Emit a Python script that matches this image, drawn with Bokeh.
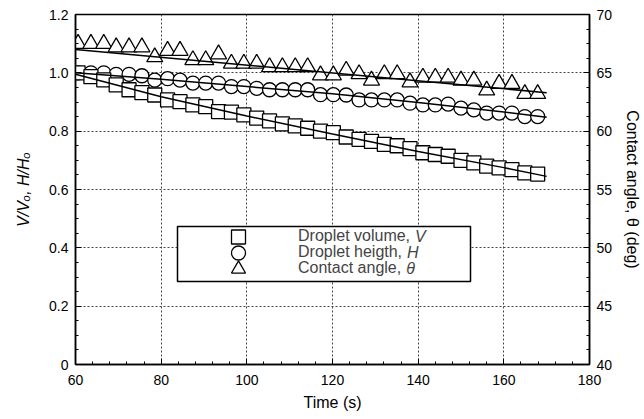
from bokeh.plotting import figure
from bokeh.models import Range1d, LinearAxis, FixedTicker, Legend, LegendItem, Label, BoxAnnotation
from bokeh.embed import file_html
from bokeh.resources import INLINE

# ---- data ----
time_s = [60.6, 63.6, 66.6, 69.5, 72.5, 75.5, 78.5, 81.5, 84.4, 87.4, 90.4, 93.4, 96.4,
          99.3, 102.3, 105.3, 108.3, 111.3, 114.2, 117.2, 120.2, 123.2, 126.2, 129.1,
          132.1, 135.1, 138.1, 141.1, 144.0, 147.0, 150.0, 153.0, 156.0, 158.9, 161.9,
          164.9, 167.9]
volume = [1.000, 0.987, 0.976, 0.959, 0.942, 0.932, 0.924, 0.907, 0.901, 0.890, 0.884,
          0.867, 0.865, 0.856, 0.845, 0.835, 0.825, 0.818, 0.810, 0.800, 0.795, 0.780,
          0.772, 0.765, 0.755, 0.750, 0.740, 0.726, 0.720, 0.714, 0.700, 0.691, 0.680,
          0.674, 0.668, 0.657, 0.653]
height = [1.000, 1.000, 1.000, 0.995, 0.995, 0.990, 0.975, 0.980, 0.975, 0.965, 0.965,
          0.965, 0.953, 0.953, 0.947, 0.942, 0.942, 0.942, 0.942, 0.925, 0.925, 0.924,
          0.907, 0.907, 0.907, 0.907, 0.896, 0.890, 0.890, 0.893, 0.879, 0.873, 0.862,
          0.862, 0.862, 0.850, 0.850]
angle = [67.5, 67.5, 67.5, 67.2, 67.2, 67.2, 66.35, 66.9, 66.9, 66.1, 66.1, 66.6, 65.8,
         65.8, 65.8, 65.5, 65.5, 65.5, 65.5, 64.8, 64.8, 65.2, 64.9, 64.35, 64.9, 64.9,
         64.2, 64.6, 64.6, 64.6, 64.35, 64.35, 63.5, 64.07, 64.07, 63.2, 63.2]

fit_time = [60, 80, 100, 120, 140, 160, 170]
volume_fit = [0.995, 0.918, 0.852, 0.790, 0.730, 0.675, 0.645]
height_fit = [1.000, 0.978, 0.953, 0.928, 0.898, 0.866, 0.848]
angle_fit_time = [60, 170]
angle_fit = [67.0, 63.3]

x_ticks = [60, 80, 100, 120, 140, 160, 180]
y_ticks = [0, 0.2, 0.4, 0.6, 0.8, 1.0, 1.2]
y_tick_labels = {0: "0", 0.2: "0.2", 0.4: "0.4", 0.6: "0.6", 0.8: "0.8", 1.0: "1.0", 1.2: "1.2"}
theta_ticks = [40, 45, 50, 55, 60, 65, 70]

x_title = "Time (s)"
y_title = "V/V\u2092, H/H\u2092"
y2_title = "Contact angle, \u03b8 (deg)"
legend_labels = ["Droplet volume,", "Droplet heigth,", "Contact angle,"]
legend_symbols = ["V", "H", "\u03b8"]

FONT = "Liberation Sans"

p = figure(width=644, height=419, output_backend="svg", toolbar_location=None,
           x_range=Range1d(60, 180), y_range=Range1d(0, 1.2),
           min_border_left=75, min_border_right=53, min_border_top=14, min_border_bottom=55)
p.extra_y_ranges = {"theta": Range1d(40, 70)}
p.background_fill_color = "white"
p.border_fill_color = "white"
p.outline_line_color = "black"
p.outline_line_width = 1.5

xt = FixedTicker(ticks=x_ticks, minor_ticks=[60 + 4 * i for i in range(31)])
yt = FixedTicker(ticks=y_ticks, minor_ticks=[0.05 * i for i in range(25)])
tt = FixedTicker(ticks=theta_ticks, minor_ticks=[40 + 1.25 * i for i in range(25)])

p.xaxis.ticker = xt
p.yaxis.ticker = yt
p.yaxis.major_label_overrides = y_tick_labels
p.xgrid.ticker = xt
p.ygrid.ticker = yt
for g in (p.xgrid, p.ygrid):
    g.grid_line_color = "#444444"
    g.grid_line_dash = "2 2"
    g.grid_line_width = 1

right = LinearAxis(y_range_name="theta", ticker=tt)
p.add_layout(right, "right")

for ax in (p.xaxis[0], p.yaxis[0], right):
    ax.axis_line_width = 1.5
    ax.axis_line_color = "black"
    ax.major_tick_in = 6
    ax.major_tick_out = 0
    ax.minor_tick_in = 3
    ax.minor_tick_out = 0
    ax.major_tick_line_color = "black"
    ax.minor_tick_line_color = "black"
    ax.major_label_text_font = FONT
    ax.major_label_text_font_size = "14px"
    ax.major_label_text_color = "black"
    ax.major_label_standoff = 7
    ax.axis_label_text_font = FONT
    ax.axis_label_text_font_size = "16px"
    ax.axis_label_text_color = "black"

p.xaxis.axis_label = x_title
p.xaxis.axis_label_text_font_style = "normal"
p.xaxis.major_label_standoff = 10
p.xaxis.axis_label_standoff = 6

p.yaxis.axis_label = y_title
p.yaxis.axis_label_text_font_style = "italic"
p.yaxis.axis_label_standoff = 14

right.axis_label = y2_title
right.axis_label_text_font_style = "normal"
right.axis_label_standoff = 9

# ---- marks ----
r_tri = p.scatter(time_s, angle, y_range_name="theta", marker="triangle", size=16,
                  fill_color="white", line_color="black", line_width=1.3)
r_cir = p.scatter(time_s, height, marker="circle", size=14,
                  fill_color="white", line_color="black", line_width=1.3)
r_sq = p.scatter(time_s, volume, marker="square", size=14,
                 fill_color="white", line_color="black", line_width=1.3)
p.line(angle_fit_time, angle_fit, y_range_name="theta", line_color="black", line_width=1.5)
p.line(fit_time, height_fit, line_color="black", line_width=1.5)
p.line(fit_time, volume_fit, line_color="black", line_width=1.5)

# ---- legend (frame-relative screen px) ----
box = BoxAnnotation(left=102, right=395, bottom=83, top=138,
                    left_units="screen", right_units="screen",
                    bottom_units="screen", top_units="screen",
                    fill_color="white", fill_alpha=1.0,
                    line_color="black", line_alpha=1.0, line_width=1.5)
p.add_layout(box)

row_y = [128, 112, 96]
label_em = [7.28, 6.78, 6.73]
for i, (lab, rend) in enumerate(zip(legend_labels, [r_sq, r_cir, r_tri])):
    lg = Legend(items=[LegendItem(label=lab, renderers=[rend])],
                location=(143, row_y[i] - 17.5), padding=0, margin=0, spacing=0,
                glyph_width=40, glyph_height=35, label_height=17, label_standoff=40,
                label_text_font=FONT, label_text_font_size="16px",
                border_line_color=None, background_fill_alpha=0.0)
    p.add_layout(lg, "center")
    p.add_layout(Label(x=223 + label_em[i] * 16, y=row_y[i], x_units="screen", y_units="screen",
                       text=legend_symbols[i], text_font=FONT, text_font_size="16px",
                       text_font_style="italic", text_baseline="middle"))

open("out.html", "w").write(file_html(p, INLINE))
